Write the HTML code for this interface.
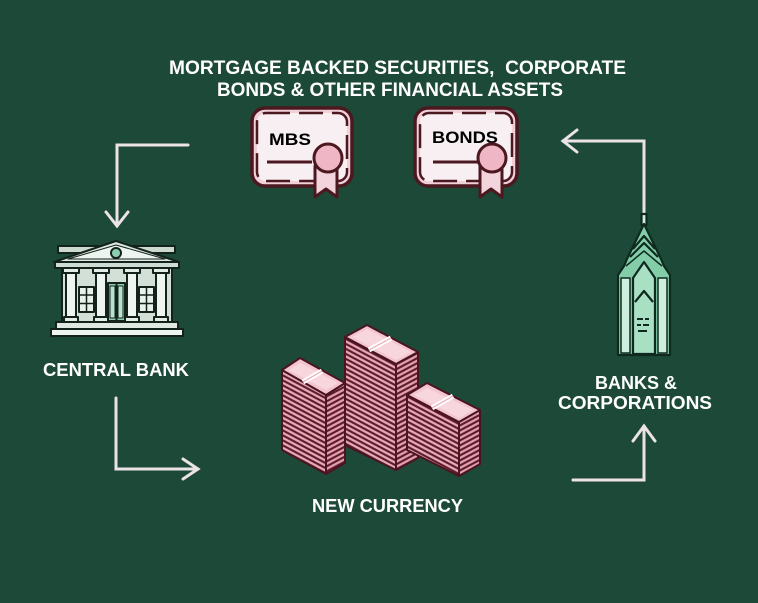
<!DOCTYPE html>
<html>
<head>
<meta charset="utf-8">
<style>
  html,body{margin:0;padding:0;background:#1d4938;}
  svg{display:block;}
  text{font-family:"Liberation Sans",Arial,sans-serif;font-weight:bold;}
</style>
</head>
<body>
<svg width="758" height="603" viewBox="0 0 758 603" xmlns="http://www.w3.org/2000/svg">
  <defs>
    <pattern id="sl" width="20" height="5" patternUnits="userSpaceOnUse" patternTransform="skewY(28)">
      <rect width="20" height="5" fill="#5a1a28"/>
      <rect y="1.2" width="20" height="2.6" fill="#e8a9b8"/>
    </pattern>
    <pattern id="sr" width="20" height="5" patternUnits="userSpaceOnUse" patternTransform="skewY(-28)">
      <rect width="20" height="5" fill="#5a1a28"/>
      <rect y="1.2" width="20" height="2.6" fill="#e3a0b0"/>
    </pattern>
  </defs>

  <rect width="758" height="603" fill="#1d4938"/>

  <!-- Headings -->
  <text x="169" y="74" font-size="19" fill="#ffffff" textLength="457" lengthAdjust="spacingAndGlyphs">MORTGAGE BACKED SECURITIES,&#160; CORPORATE</text>
  <text x="217" y="96" font-size="19" fill="#ffffff" textLength="346" lengthAdjust="spacingAndGlyphs">BONDS &amp; OTHER FINANCIAL ASSETS</text>
  <text x="43" y="376" font-size="18.5" fill="#ffffff" textLength="146" lengthAdjust="spacingAndGlyphs">CENTRAL BANK</text>
  <text x="595" y="389" font-size="18.5" fill="#ffffff" textLength="82" lengthAdjust="spacingAndGlyphs">BANKS &amp;</text>
  <text x="558" y="409" font-size="18.5" fill="#ffffff" textLength="154" lengthAdjust="spacingAndGlyphs">CORPORATIONS</text>
  <text x="312" y="512" font-size="18.5" fill="#ffffff" textLength="151" lengthAdjust="spacingAndGlyphs">NEW CURRENCY</text>

  <!-- Arrows -->
  <g fill="none" stroke="#ece3e6" stroke-width="3" stroke-linecap="round" stroke-linejoin="miter">
    <polyline points="188,145 117,145 117,226"/>
    <polyline points="106,212 117,226 128,212"/>
    <polyline points="116,398 116,469 198,469"/>
    <polyline points="183,459 198,469 183,479"/>
    <polyline points="573,480 644,480 644,426"/>
    <polyline points="633,441 644,426 655,441"/>
    <polyline points="644,214 644,141 563,141"/>
    <polyline points="577,130 563,141 577,152"/>
  </g>

  <!-- MBS certificate -->
  <g stroke="#4b1820" stroke-linejoin="round">
    <rect x="252" y="108" width="100" height="78" rx="13" fill="#f1d0da" stroke-width="3.5"/>
    <rect x="257" y="113" width="90" height="68" rx="9" fill="#f8eff3" stroke-width="2.5" stroke-dasharray="24 9"/>
    <line x1="267" y1="162" x2="312" y2="162" stroke-width="3"/>
  </g>
  <text x="269" y="145" font-size="17" fill="#000" textLength="42" lengthAdjust="spacingAndGlyphs">MBS</text>
  <g stroke="#4b1820" stroke-width="3" stroke-linejoin="round">
    <polygon points="315,166 315,197 326,189 337,197 337,166" fill="#f3d3dc"/>
    <circle cx="328" cy="158" r="14" fill="#efb6c5"/>
  </g>

  <!-- BONDS certificate -->
  <g stroke="#4b1820" stroke-linejoin="round">
    <rect x="415" y="108" width="102" height="78" rx="13" fill="#f1d0da" stroke-width="3.5"/>
    <rect x="420" y="113" width="92" height="68" rx="9" fill="#f8eff3" stroke-width="2.5" stroke-dasharray="24 9"/>
    <line x1="433" y1="162" x2="478" y2="162" stroke-width="3"/>
  </g>
  <text x="432" y="143" font-size="17" fill="#000" textLength="66" lengthAdjust="spacingAndGlyphs">BONDS</text>
  <g stroke="#4b1820" stroke-width="3" stroke-linejoin="round">
    <polygon points="480,166 480,197 491,189 502,197 502,166" fill="#f3d3dc"/>
    <circle cx="492" cy="158" r="14" fill="#efb6c5"/>
  </g>

  <!-- Central bank -->
  <g stroke="#13221b" stroke-width="2" stroke-linejoin="round">
    <rect x="58" y="246" width="117" height="7" fill="#cbd9cf"/>
    <polygon points="54,262 116,241 179,262" fill="#dce7df"/>
    <polygon points="68,259 116,245 165,259" fill="#eef4f0" stroke-width="1"/>
    <circle cx="116" cy="253" r="5" fill="#8ccfae"/>
    <rect x="55" y="262" width="124" height="6" fill="#cfdcd3"/>
    <rect x="62" y="268" width="110" height="54" fill="#d3e0d7"/>
    <!-- windows -->
    <rect x="79" y="287" width="15" height="25" fill="#e9f1eb"/>
    <rect x="139" y="287" width="15" height="25" fill="#e9f1eb"/>
    <g stroke-width="1.5">
      <line x1="86.5" y1="287" x2="86.5" y2="312"/>
      <line x1="79" y1="295" x2="94" y2="295"/>
      <line x1="79" y1="303.5" x2="94" y2="303.5"/>
      <line x1="146.5" y1="287" x2="146.5" y2="312"/>
      <line x1="139" y1="295" x2="154" y2="295"/>
      <line x1="139" y1="303.5" x2="154" y2="303.5"/>
    </g>
    <!-- door -->
    <rect x="108" y="283" width="17" height="38" fill="#8ccfae"/>
    <rect x="110" y="286" width="5" height="32" fill="#b7e3cc" stroke-width="1"/>
    <rect x="118" y="286" width="5" height="32" fill="#b7e3cc" stroke-width="1"/>
    <line x1="116.5" y1="283" x2="116.5" y2="321"/>
    <!-- columns -->
    <rect x="63" y="268" width="16" height="5" fill="#e3ece6"/>
    <rect x="66" y="273" width="10" height="45" fill="#eef4f0"/>
    <rect x="64" y="317" width="14" height="5" fill="#e3ece6"/>
    <rect x="93" y="268" width="16" height="5" fill="#e3ece6"/>
    <rect x="96" y="273" width="10" height="45" fill="#eef4f0"/>
    <rect x="94" y="317" width="14" height="5" fill="#e3ece6"/>
    <rect x="124" y="268" width="16" height="5" fill="#e3ece6"/>
    <rect x="127" y="273" width="10" height="45" fill="#eef4f0"/>
    <rect x="125" y="317" width="14" height="5" fill="#e3ece6"/>
    <rect x="153" y="268" width="16" height="5" fill="#e3ece6"/>
    <rect x="156" y="273" width="10" height="45" fill="#eef4f0"/>
    <rect x="154" y="317" width="14" height="5" fill="#e3ece6"/>
    <!-- steps -->
    <rect x="56" y="322" width="122" height="7" fill="#dfe9e2"/>
    <rect x="51" y="329" width="132" height="7" fill="#eef4f0"/>
  </g>

  <!-- Skyscraper -->
  <g stroke="#0e2a1e" stroke-width="2.2" stroke-linejoin="round">
    <rect x="641.5" y="214" width="5" height="11" fill="#cfeedd"/>
    <polygon points="618,355 618,275 624,266 627,259 644,224 661,259 664,266 670,275 670,355" fill="#84cda9"/>
    <rect x="621" y="278" width="9" height="75" fill="#cdeedc" stroke-width="1.5"/>
    <rect x="658" y="278" width="9" height="75" fill="#cdeedc" stroke-width="1.5"/>
    <polygon points="633,354 633,278 644,262 655,278 655,354" fill="#a9dfc3"/>
    <polyline points="635,302 644,291 653,302" fill="none"/>
    <polyline points="633,249 644,236 655,249" fill="none"/>
    <polyline points="630,257 644,243 658,257" fill="none"/>
    <polyline points="626,266 644,251 662,266" fill="none" stroke-width="1.5"/>
    <g stroke-width="2">
      <line x1="637" y1="319" x2="643" y2="319"/>
      <line x1="645" y1="319" x2="649" y2="319"/>
      <line x1="637" y1="325" x2="641" y2="325"/>
      <line x1="643" y1="325" x2="649" y2="325"/>
      <line x1="638" y1="331" x2="647" y2="331"/>
    </g>
  </g>

  <!-- Money stacks -->
  <g stroke="#4a1420" stroke-width="2" stroke-linejoin="round">
    <!-- middle stack -->
    <polygon points="345,337 396,364 396,470 345,445" fill="url(#sl)"/>
    <polygon points="396,364 418,352 418,458 396,470" fill="url(#sr)"/>
    <polygon points="345,337 367,325 418,352 396,364" fill="#f3c5d0"/>
    <polygon points="352,337 367,329 411,352 396,360" fill="#f7d6de" stroke="none"/>
    <line x1="369" y1="350" x2="391" y2="338" stroke="#ffffff" stroke-width="5"/>
    <line x1="369" y1="350" x2="391" y2="338" stroke="#e8aab8" stroke-width="1.2"/>
    <!-- left stack -->
    <polygon points="282,370 326,395 326,474 282,450" fill="url(#sl)"/>
    <polygon points="326,395 345,383 345,463 326,474" fill="url(#sr)"/>
    <polygon points="282,370 300,358 345,383 326,395" fill="#f3c5d0"/>
    <polygon points="289,370 300,363 338,383 326,390" fill="#f7d6de" stroke="none"/>
    <line x1="303" y1="382" x2="322" y2="371" stroke="#ffffff" stroke-width="5"/>
    <line x1="303" y1="382" x2="322" y2="371" stroke="#e8aab8" stroke-width="1.2"/>
    <!-- right stack -->
    <polygon points="407,395 459,422 459,476 407,450" fill="url(#sl)"/>
    <polygon points="459,422 480,410 480,464 459,476" fill="url(#sr)"/>
    <polygon points="407,395 427,383 480,410 459,422" fill="#f3c5d0"/>
    <polygon points="414,395 427,388 473,410 459,418" fill="#f7d6de" stroke="none"/>
    <line x1="432" y1="408" x2="453" y2="396" stroke="#ffffff" stroke-width="5"/>
    <line x1="432" y1="408" x2="453" y2="396" stroke="#e8aab8" stroke-width="1.2"/>
  </g>
</svg>
</body>
</html>
